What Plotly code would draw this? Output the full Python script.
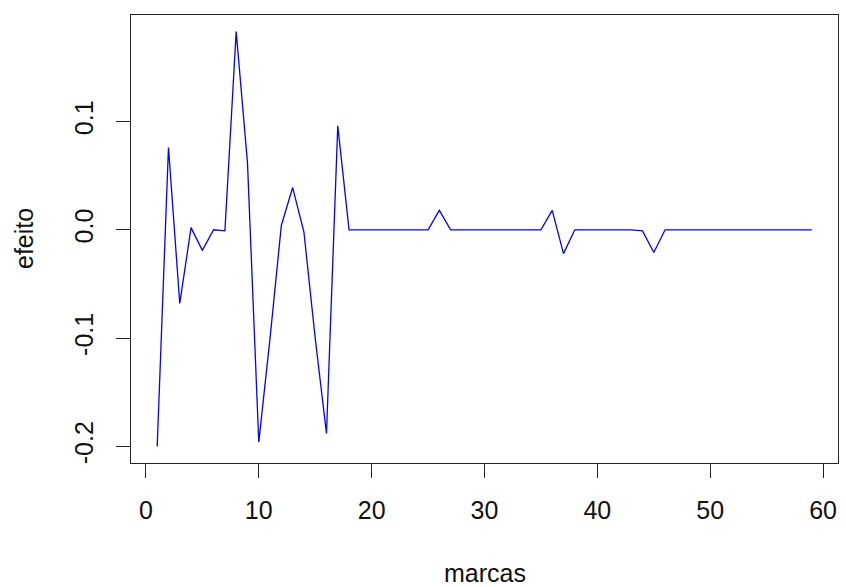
import plotly.graph_objects as go

marcas = list(range(1, 60))
efeito = [
    -0.200, 0.076, -0.068, 0.002, -0.019, 0.000, -0.001, 0.183, 0.062, -0.196,
    -0.100, 0.004, 0.039, -0.002, -0.100, -0.188, 0.096, 0.000, 0.000, 0.000,
    0.000, 0.000, 0.000, 0.000, 0.000, 0.018, 0.000, 0.000, 0.000, 0.000,
    0.000, 0.000, 0.000, 0.000, 0.000, 0.018, -0.022, 0.000, 0.000, 0.000,
    0.000, 0.000, 0.000, -0.001, -0.021, 0.000, 0.000, 0.000, 0.000, 0.000,
    0.000, 0.000, 0.000, 0.000, 0.000, 0.000, 0.000, 0.000, 0.000,
]
x_ticks = [0, 10, 20, 30, 40, 50, 60]
y_ticks = [-0.2, -0.1, 0.0, 0.1]
y_ticktext = ["-0.2", "-0.1", "0.0", "0.1"]

FONT = "Liberation Sans, Arial, sans-serif"
FS = 25

fig = go.Figure()
fig.add_trace(go.Scatter(x=marcas, y=efeito, mode="lines",
                         line=dict(color="#0000FF", width=1.3),
                         showlegend=False, hoverinfo="skip"))

xmin, xmax = min(marcas), max(marcas)
xpad = (xmax - xmin) * 0.04
ymin, ymax = min(efeito), max(efeito)
ypad = (ymax - ymin) * 0.04

fig.update_layout(
    width=846, height=587,
    margin=dict(l=131, r=8, t=15, b=124, autoexpand=False),
    paper_bgcolor="white", plot_bgcolor="white",
    font=dict(family=FONT, size=FS, color="#111111"),
    xaxis=dict(range=[xmin - xpad, xmax + xpad], tickvals=x_ticks, automargin=False,
               ticks="outside", ticklen=14, tickwidth=1, tickcolor="#222222",
               showline=True, mirror=True, linecolor="#222222", linewidth=1,
               showgrid=False, zeroline=False, ticklabelstandoff=11,
               tickfont=dict(family=FONT, size=FS, color="#111111")),
    yaxis=dict(range=[ymin - ypad, ymax + ypad], tickvals=y_ticks, ticktext=y_ticktext,
               automargin=False,
               ticks="outside", ticklen=14, tickwidth=1, tickcolor="#222222",
               showline=True, mirror=True, linecolor="#222222", linewidth=1,
               showgrid=False, zeroline=False, tickangle=-90, ticklabelstandoff=13,
               tickfont=dict(family=FONT, size=FS, color="#111111")),
    annotations=[
        dict(text="marcas", xref="paper", yref="paper", x=0.5, y=0,
             xanchor="center", yanchor="middle", yshift=-110, showarrow=False,
             font=dict(family=FONT, size=FS, color="#111111")),
        dict(text="efeito", xref="paper", yref="paper", x=0, y=0.5,
             xanchor="center", yanchor="middle", xshift=-107, textangle=-90,
             showarrow=False, font=dict(family=FONT, size=FS, color="#111111")),
    ],
)

fig.write_html("out.html", config={"displayModeBar": False},
               post_script="document.body.style.margin='0px';document.body.style.padding='0px';")
